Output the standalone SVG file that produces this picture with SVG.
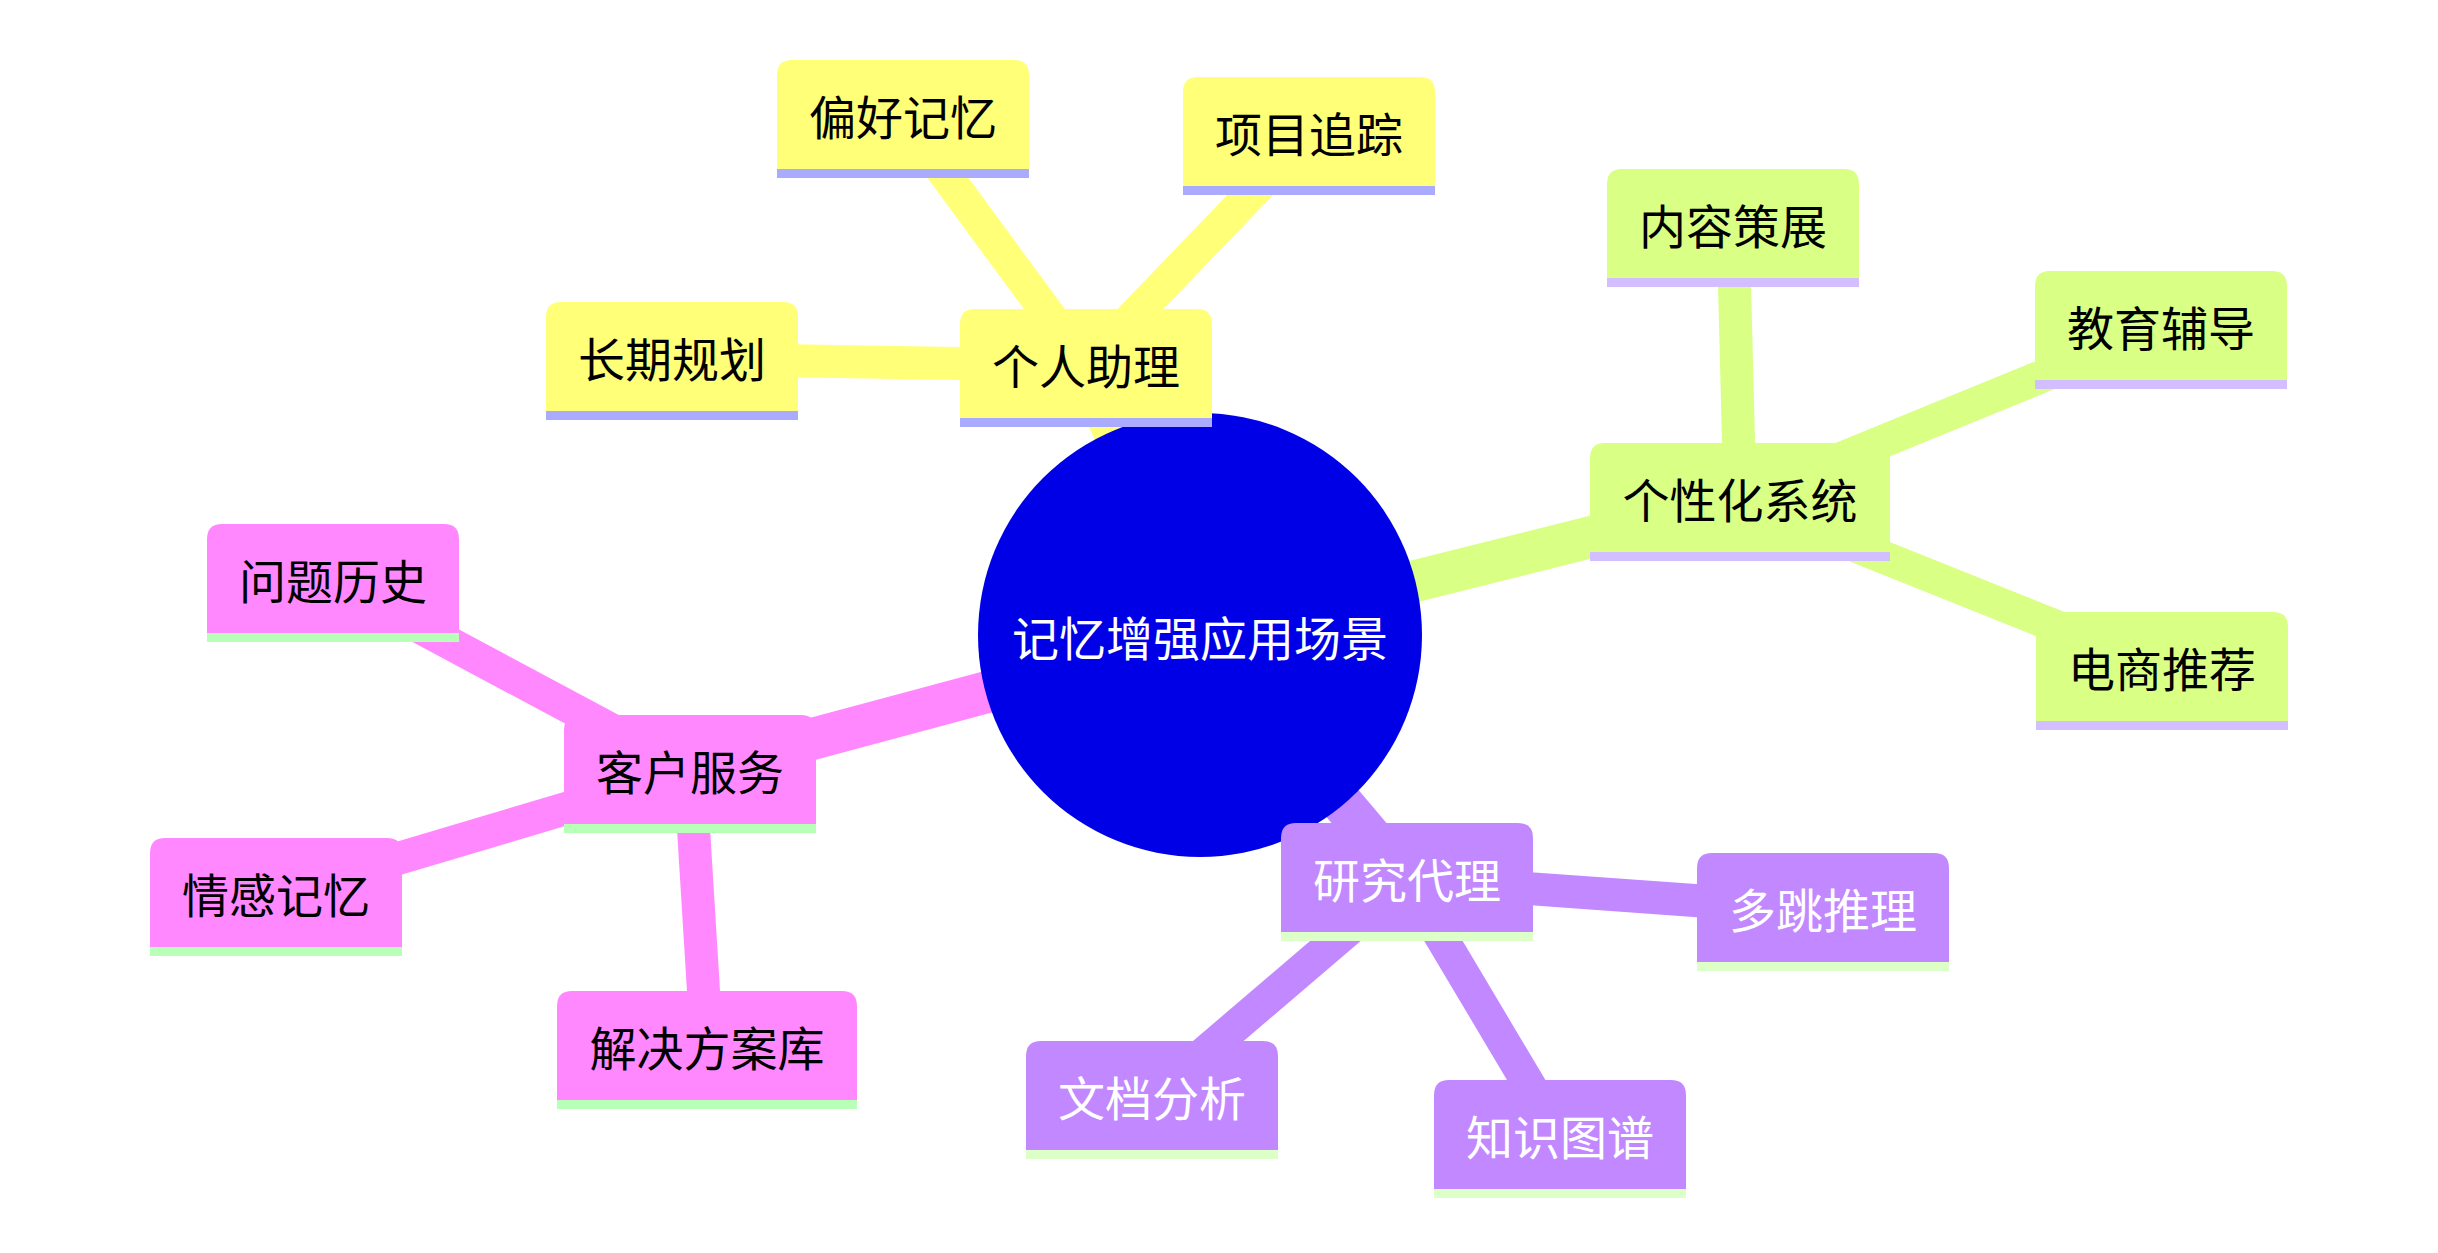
<svg xmlns="http://www.w3.org/2000/svg" width="2438" height="1253" viewBox="0 0 2438 1253">
<defs>
<style>
.e0{stroke-width:42;fill:none;stroke-linecap:butt}
.e1{stroke-width:33;fill:none;stroke-linecap:butt}
.s0{stroke:#ffff78}.s1{stroke:#d9ff84}.s2{stroke:#c288ff}.s3{stroke:#ff88ff}
.n0 use{fill:#ffff78}.n0 line{stroke:#aaaaff;stroke-width:9}.n0 text{fill:#000}
.n1 use{fill:#d9ff84}.n1 line{stroke:#d3bfff;stroke-width:9}.n1 text{fill:#000}
.n2 use{fill:#c288ff}.n2 line{stroke:#ddffc8;stroke-width:9}.n2 text{fill:#fff}
.n3 use{fill:#ff88ff}.n3 line{stroke:#b8ffb8;stroke-width:9}.n3 text{fill:#000}
text{font-family:"Noto Sans CJK SC","Noto Sans CJK JP",sans-serif;font-size:47px;text-anchor:middle;dominant-baseline:central}
.root text{fill:#fff}
</style>
<path id="b4" d="M0,113.5 V15 Q0,0 15,0 H237 Q252,0 252,15 V113.5 Z"/>
<path id="b5" d="M0,113.5 V15 Q0,0 15,0 H285 Q300,0 300,15 V113.5 Z"/>
</defs>
<rect width="2438" height="1253" fill="#fff"/>
<g id="edges">
<line class="e0 s0" x1="1200" y1="635" x2="1086" y2="365.75"/>
<line class="e1 s0" x1="1086" y1="365.75" x2="903" y2="116.75"/>
<line class="e1 s0" x1="1086" y1="365.75" x2="1309" y2="133.75"/>
<line class="e1 s0" x1="1086" y1="365.75" x2="672" y2="358.75"/>
<line class="e0 s1" x1="1200" y1="635" x2="1740" y2="499.75"/>
<line class="e1 s1" x1="1740" y1="499.75" x2="1733" y2="225.75"/>
<line class="e1 s1" x1="1740" y1="499.75" x2="2161" y2="327.75"/>
<line class="e1 s1" x1="1740" y1="499.75" x2="2162" y2="668.75"/>
<line class="e0 s2" x1="1200" y1="635" x2="1407" y2="879.75"/>
<line class="e1 s2" x1="1407" y1="879.75" x2="1823" y2="909.75"/>
<line class="e1 s2" x1="1407" y1="879.75" x2="1560" y2="1136.75"/>
<line class="e1 s2" x1="1407" y1="879.75" x2="1152" y2="1097.75"/>
<line class="e0 s3" x1="1200" y1="635" x2="690" y2="771.75"/>
<line class="e1 s3" x1="690" y1="771.75" x2="333" y2="580.75"/>
<line class="e1 s3" x1="690" y1="771.75" x2="276" y2="894.75"/>
<line class="e1 s3" x1="690" y1="771.75" x2="707" y2="1047.75"/>
</g>
<g id="root" class="root">
<circle cx="1200" cy="635" r="222" fill="#0000e6"/>
<text x="1200" y="635">记忆增强应用场景</text>
</g>
<g id="n-assist" class="n0" transform="translate(960,309)"><use href="#b4"/><line x1="0" y1="113.5" x2="252" y2="113.5"/><text x="126" y="54">个人助理</text></g>
<g id="n-pref" class="n0" transform="translate(777,60)"><use href="#b4"/><line x1="0" y1="113.5" x2="252" y2="113.5"/><text x="126" y="54">偏好记忆</text></g>
<g id="n-proj" class="n0" transform="translate(1183,77)"><use href="#b4"/><line x1="0" y1="113.5" x2="252" y2="113.5"/><text x="126" y="54">项目追踪</text></g>
<g id="n-plan" class="n0" transform="translate(546,302)"><use href="#b4"/><line x1="0" y1="113.5" x2="252" y2="113.5"/><text x="126" y="54">长期规划</text></g>
<g id="n-person" class="n1" transform="translate(1590,443)"><use href="#b5"/><line x1="0" y1="113.5" x2="300" y2="113.5"/><text x="150" y="54">个性化系统</text></g>
<g id="n-content" class="n1" transform="translate(1607,169)"><use href="#b4"/><line x1="0" y1="113.5" x2="252" y2="113.5"/><text x="126" y="54">内容策展</text></g>
<g id="n-edu" class="n1" transform="translate(2035,271)"><use href="#b4"/><line x1="0" y1="113.5" x2="252" y2="113.5"/><text x="126" y="54">教育辅导</text></g>
<g id="n-shop" class="n1" transform="translate(2036,612)"><use href="#b4"/><line x1="0" y1="113.5" x2="252" y2="113.5"/><text x="126" y="54">电商推荐</text></g>
<g id="n-research" class="n2" transform="translate(1281,823)"><use href="#b4"/><line x1="0" y1="113.5" x2="252" y2="113.5"/><text x="126" y="54">研究代理</text></g>
<g id="n-multihop" class="n2" transform="translate(1697,853)"><use href="#b4"/><line x1="0" y1="113.5" x2="252" y2="113.5"/><text x="126" y="54">多跳推理</text></g>
<g id="n-kg" class="n2" transform="translate(1434,1080)"><use href="#b4"/><line x1="0" y1="113.5" x2="252" y2="113.5"/><text x="126" y="54">知识图谱</text></g>
<g id="n-doc" class="n2" transform="translate(1026,1041)"><use href="#b4"/><line x1="0" y1="113.5" x2="252" y2="113.5"/><text x="126" y="54">文档分析</text></g>
<g id="n-cs" class="n3" transform="translate(564,715)"><use href="#b4"/><line x1="0" y1="113.5" x2="252" y2="113.5"/><text x="126" y="54">客户服务</text></g>
<g id="n-issue" class="n3" transform="translate(207,524)"><use href="#b4"/><line x1="0" y1="113.5" x2="252" y2="113.5"/><text x="126" y="54">问题历史</text></g>
<g id="n-emo" class="n3" transform="translate(150,838)"><use href="#b4"/><line x1="0" y1="113.5" x2="252" y2="113.5"/><text x="126" y="54">情感记忆</text></g>
<g id="n-sol" class="n3" transform="translate(557,991)"><use href="#b5"/><line x1="0" y1="113.5" x2="300" y2="113.5"/><text x="150" y="54">解决方案库</text></g>
</svg>
